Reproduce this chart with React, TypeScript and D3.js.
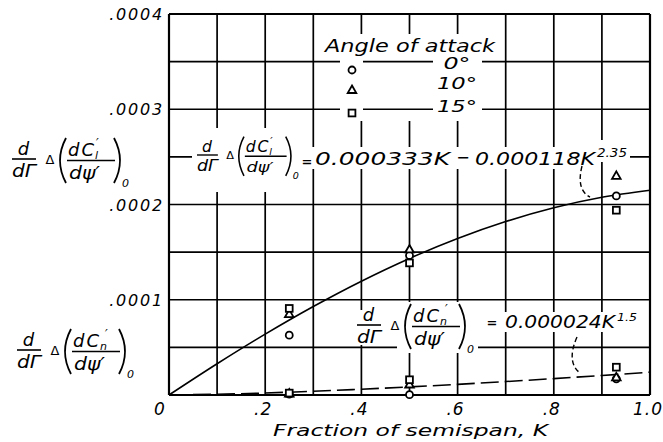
import React from "react";
import * as d3 from "d3";

// ---- data ----
const K_TICKS = [0, 0.2, 0.4, 0.6, 0.8, 1.0];
const K_TICK_LABELS = ["0", ".2", ".4", ".6", ".8", "1.0"];
const Y_TICKS = [0.0001, 0.0002, 0.0003, 0.0004];
const Y_TICK_LABELS = [".0001", ".0002", ".0003", ".0004"];

// test stations
const K_POINTS = [0.25, 0.5, 0.93];
// rolling-moment derivative (upper group)
const ROLL_0 = [0.0000628, 0.0001465, 0.000209];
const ROLL_10 = [0.0000849, 0.0001528, 0.00023];
const ROLL_15 = [0.0000909, 0.0001387, 0.000194];
// yawing-moment derivative (lower group)
const YAW_0 = [0.000001, 0.0000003, 0.000017];
const YAW_10 = [0.0000015, 0.000011, 0.0000185];
const YAW_15 = [0.000002, 0.000016, 0.0000292];

// faired curves
const K_CURVE = [0, 0.1, 0.2, 0.3, 0.4, 0.5, 0.6, 0.7, 0.8, 0.9, 1.0];
const ROLL_CURVE = [0, 0.0000328, 0.0000639, 0.0000929, 0.0001195, 0.0001434, 0.0001643, 0.0001821, 0.0001966, 0.0002076, 0.000215];
const YAW_CURVE = [0, 0.0000008, 0.0000021, 0.0000039, 0.0000061, 0.0000085, 0.0000112, 0.0000141, 0.0000172, 0.0000205, 0.000024];

const LEGEND_LABELS = ["0°", "10°", "15°"];

const W = 663;
const H = 442;
const FONT = "'DejaVu Sans', sans-serif";

const x = d3.scaleLinear().domain([0, 1]).range([169, 650]);
const y = d3.scaleLinear().domain([0, 0.0004]).range([395, 14]);

function Marker({ kind, cx, cy }: { kind: string; cx: number; cy: number }) {
  const st = { fill: "white", stroke: "black", strokeWidth: 1.8 };
  if (kind === "circle") return <circle cx={cx} cy={cy} r={3.5} {...st} />;
  if (kind === "triangle") {
    const p = d3.path();
    p.moveTo(cx, cy - 4.5);
    p.lineTo(cx + 4.3, cy + 3);
    p.lineTo(cx - 4.3, cy + 3);
    p.closePath();
    return <path d={p.toString()} {...st} />;
  }
  return <rect x={cx - 3.4} y={cy - 3.4} width={6.8} height={6.8} {...st} />;
}

function Deriv({ x0, y0, s, sub }: { x0: number; y0: number; s: number; sub: string }) {
  const ln = { stroke: "black", strokeWidth: 1.6 };
  return (
    <g transform={`translate(${x0},${y0}) scale(${s})`} fontFamily={FONT} fontStyle="italic" fill="black">
      <text x={11.5} y={-4} textAnchor="middle" fontSize={18}>d</text>
      <line x1={0} x2={24} y1={0} y2={0} {...ln} />
      <text x={0} y={18} fontSize={18} textLength={24} lengthAdjust="spacingAndGlyphs">dΓ</text>
      <text x={38} y={5} textAnchor="middle" fontSize={13} fontStyle="normal">Δ</text>
      <path d="M54,-21 Q42,1.5 54,24" fill="none" stroke="black" strokeWidth={1.8} />
      <text x={56} y={-3} fontSize={18} letterSpacing={2}>
        dC
        <tspan fontSize={11} dy={3} dx={-1}>{sub}</tspan>
        <tspan fontSize={12} dy={-12} dx={-4}>′</tspan>
      </text>
      <line x1={55} x2={103} y1={1.5} y2={1.5} {...ln} />
      <text x={57} y={20} fontSize={17} textLength={31} lengthAdjust="spacingAndGlyphs">dψ′</text>
      <path d="M102,-21 Q114,1.5 102,24" fill="none" stroke="black" strokeWidth={1.8} />
      <text x={110} y={28} fontSize={11}>0</text>
    </g>
  );
}

export default function App() {
  const gridK = d3.range(0, 11).map((i) => i / 10);
  const gridY = d3.range(0, 9).map((i) => i * 0.00005);
  const line = d3
    .line<number>()
    .x((_, i) => x(K_CURVE[i]))
    .y((d) => y(d))
    .curve(d3.curveMonotoneX);

  const rollSets = [ROLL_0, ROLL_10, ROLL_15];
  const yawSets = [YAW_0, YAW_10, YAW_15];
  const kinds = ["circle", "triangle", "square"];
  const gl = { stroke: "black", strokeWidth: 1.7 };
  const white = { fill: "white" };
  const legendRows = [70, 90, 113];

  return (
    <svg width={W} height={H} style={{ position: "absolute", left: 0, top: 0, background: "white" }}>
      <rect x={0} y={0} width={W} height={H} fill="white" />
      {/* vertical grid */}
      {gridK.map((k) => (
        <line key={"v" + k} x1={x(k)} x2={x(k)} y1={y(0.0004)} y2={y(0)} {...gl} strokeWidth={k === 0 || k === 1 ? 2.2 : 1.7} />
      ))}
      {/* legend block knockout */}
      <rect x={322} y={34} width={176} height={87} {...white} />
      {/* horizontal grid */}
      {gridY.map((v) => (
        <line key={"h" + v} x1={x(0)} x2={x(1)} y1={y(v)} y2={y(v)} {...gl} strokeWidth={v === 0 || v > 0.00039 ? 2.2 : 1.7} />
      ))}

      {/* legend */}
      <text x={325} y={52} fontFamily={FONT} fontStyle="italic" fontSize={18} textLength={170} lengthAdjust="spacingAndGlyphs">
        Angle of attack
      </text>
      {legendRows.map((ry, i) => (
        <g key={"lg" + i}>
          <rect x={340} y={ry - 11} width={23} height={19} {...white} />
          <Marker kind={kinds[i]} cx={352} cy={ry} />
          <rect x={433} y={ry - 14} width={49} height={19} {...white} />
          <text x={457} y={ry - 1} textAnchor="middle" fontFamily={FONT} fontStyle="italic" fontSize={15} textLength={i === 0 ? 27 : 40} lengthAdjust="spacingAndGlyphs">
            {LEGEND_LABELS[i]}
          </text>
        </g>
      ))}

      {/* upper in-plot formula */}
      <rect x={192} y={128} width={108} height={64} {...white} />
      <rect x={300} y={147} width={296} height={22} {...white} />
      <rect x={596} y={140} width={34} height={22} {...white} />
      <Deriv x0={197} y0={155} s={0.87} sub="l" />
      <text x={307} y={166} textAnchor="middle" fontFamily={FONT} fontSize={13} fontWeight="bold">=</text>
      <g fontFamily={FONT} fontStyle="italic">
        <text x={315} y={165} fontSize={18} textLength={135} lengthAdjust="spacingAndGlyphs">0.000333K</text>
        <text x={463} y={163} textAnchor="middle" fontSize={16}>−</text>
        <text x={475} y={165} fontSize={18} textLength={120} lengthAdjust="spacingAndGlyphs">0.000118K</text>
        <text x={597} y={157} fontSize={12} textLength={30} lengthAdjust="spacingAndGlyphs">2.35</text>
      </g>

      {/* lower in-plot formula */}
      <rect x={355} y={310} width={42} height={35} {...white} />
      <rect x={397} y={302} width={81} height={51} {...white} />
      <rect x={484} y={312} width={156} height={20} {...white} />
      <Deriv x0={357} y0={325} s={1} sub="n" />
      <text x={492} y={327} textAnchor="middle" fontFamily={FONT} fontSize={13} fontWeight="bold">=</text>
      <g fontFamily={FONT} fontStyle="italic">
        <text x={505} y={328} fontSize={18} textLength={110} lengthAdjust="spacingAndGlyphs">0.000024K</text>
        <text x={617} y={321} fontSize={11} textLength={20} lengthAdjust="spacingAndGlyphs">1.5</text>
      </g>

      {/* leader arcs */}
      <path d="M582,166 Q576,190 590,197" fill="none" stroke="black" strokeWidth={1.4} strokeDasharray="5,3" />
      <path d="M577,337 Q566,362 580,373" fill="none" stroke="black" strokeWidth={1.4} strokeDasharray="5,3" />

      {/* curves */}
      <path d={line(ROLL_CURVE) || ""} fill="none" stroke="black" strokeWidth={1.6} />
      <path d={line(YAW_CURVE) || ""} fill="none" stroke="black" strokeWidth={1.6} strokeDasharray="18,6" />

      {/* data points */}
      {rollSets.map((arr, si) =>
        arr.map((v, i) => <Marker key={"r" + si + i} kind={kinds[si]} cx={x(K_POINTS[i])} cy={y(v)} />)
      )}
      {yawSets.map((arr, si) =>
        arr.map((v, i) => <Marker key={"y" + si + i} kind={kinds[si]} cx={x(K_POINTS[i])} cy={y(v)} />)
      )}

      {/* left labels */}
      <Deriv x0={12} y0={159} s={1} sub="l" />
      <Deriv x0={17} y0={350} s={1} sub="n" />

      {/* y tick labels */}
      {Y_TICKS.map((v, i) => (
        <text key={"yt" + i} x={164} y={y(v) + 6} textAnchor="end" fontFamily={FONT} fontStyle="italic" fontSize={16} letterSpacing={1.8}>
          {Y_TICK_LABELS[i]}
        </text>
      ))}
      {/* x tick labels */}
      {K_TICKS.map((k, i) => (
        <text key={"xt" + i} x={k === 0 ? 160 : x(k) - 2} y={415} textAnchor="middle" fontFamily={FONT} fontStyle="italic" fontSize={17} letterSpacing={1}>
          {K_TICK_LABELS[i]}
        </text>
      ))}
      <text x={273} y={436} fontFamily={FONT} fontStyle="italic" fontSize={16} textLength={275} lengthAdjust="spacingAndGlyphs">
        Fraction of semispan, K
      </text>
    </svg>
  );
}
